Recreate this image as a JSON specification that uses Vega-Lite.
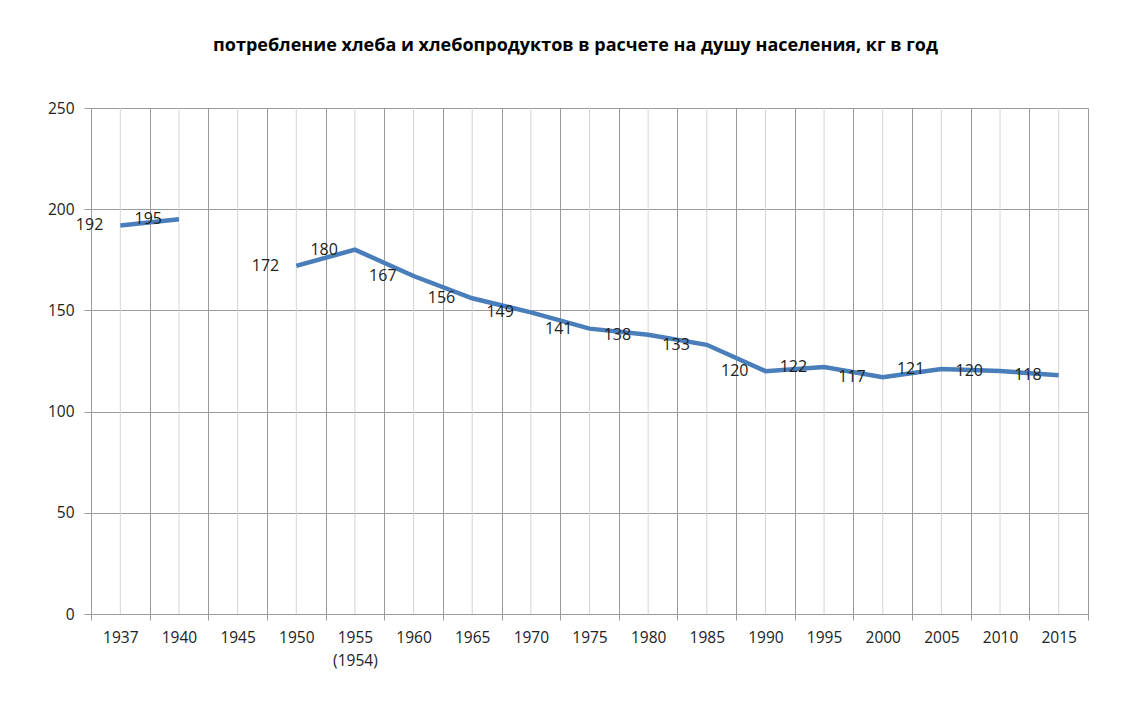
{
  "$schema": "https://vega.github.io/schema/vega-lite/v6.json",
  "width": 997,
  "height": 506,
  "autosize": "none",
  "padding": {"left": 91, "top": 108, "right": 40, "bottom": 94},
  "background": "white",
  "title": {
    "text": "потребление хлеба и хлебопродуктов в расчете на душу населения, кг в год",
    "fontSize": 18,
    "fontWeight": "bold",
    "font": "Open Sans",
    "color": "#000000",
    "anchor": "middle",
    "dx": -14,
    "offset": 46
  },
  "data": {
    "values": [
      {"year": "1937", "value": 192},
      {"year": "1940", "value": 195},
      {"year": "1945", "value": null},
      {"year": "1950", "value": 172},
      {"year": "1955", "value": 180},
      {"year": "1960", "value": 167},
      {"year": "1965", "value": 156},
      {"year": "1970", "value": 149},
      {"year": "1975", "value": 141},
      {"year": "1980", "value": 138},
      {"year": "1985", "value": 133},
      {"year": "1990", "value": 120},
      {"year": "1995", "value": 122},
      {"year": "2000", "value": 117},
      {"year": "2005", "value": 121},
      {"year": "2010", "value": 120},
      {"year": "2015", "value": 118}
    ]
  },
  "encoding": {
    "x": {
      "field": "year",
      "type": "ordinal",
      "sort": null,
      "bandPosition": 0.5,
      "scale": {
        "type": "band",
        "paddingInner": 0,
        "paddingOuter": 0,
        "domain": ["1937","1940","1945","1950","1955","1960","1965","1970","1975","1980","1985","1990","1995","2000","2005","2010","2015"]
      },
      "axis": {
        "title": null,
        "labelAngle": 0,
        "tickBand": "extent",
        "grid": true,
        "gridColor": "#9a9a9a",
        "gridWidth": 1,
        "domainColor": "#9a9a9a",
        "tickColor": "#9a9a9a",
        "tickSize": 6,
        "labelPadding": 10,
        "labelFontSize": 15.5,
        "labelFont": "Open Sans",
        "labelColor": "#222222",
        "labelLineHeight": 23,
        "labelExpr": "datum.value == '1955' ? ['1955', '(1954)'] : datum.label"
      }
    }
  },
  "layer": [
    {
      "mark": {"type": "rule", "color": "#d4d4d4", "strokeWidth": 1},
      "encoding": {}
    },
    {
      "mark": {"type": "line", "color": "#4a7ebb", "strokeWidth": 4.5, "invalid": "break-paths-show-domains"},
      "encoding": {
        "y": {
          "field": "value",
          "type": "quantitative",
          "scale": {"domain": [0, 250], "nice": false, "zero": true},
          "axis": {
            "title": null,
            "values": [0, 50, 100, 150, 200, 250],
            "grid": true,
            "gridColor": "#9a9a9a",
            "domainColor": "#9a9a9a",
            "tickColor": "#9a9a9a",
            "tickSize": 7,
            "labelPadding": 10,
            "labelFontSize": 15.5,
            "labelFont": "Open Sans",
            "labelColor": "#222222"
          }
        }
      }
    },
    {
      "transform": [{"filter": "datum.value != null"}],
      "mark": {"type": "text", "align": "right", "baseline": "middle", "dx": -17, "fontSize": 16, "font": "Open Sans", "color": "#222222"},
      "encoding": {
        "y": {"field": "value", "type": "quantitative"},
        "text": {"field": "value", "type": "quantitative"}
      }
    }
  ],
  "config": {
    "view": {"stroke": null},
    "axis": {"gridOpacity": 1}
  }
}
